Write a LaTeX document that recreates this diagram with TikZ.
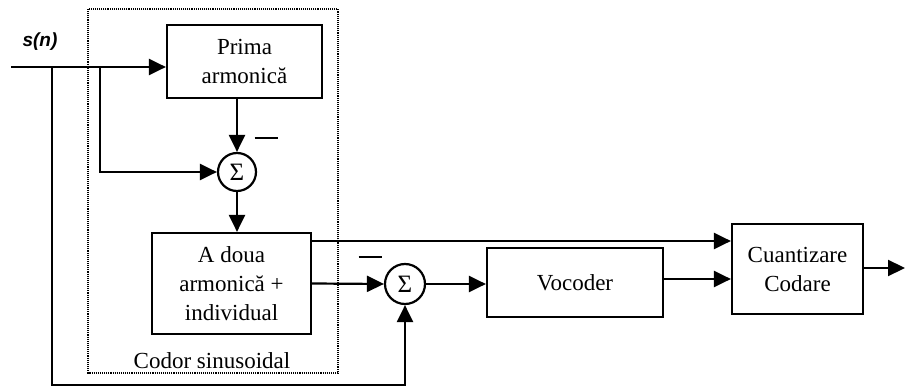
\documentclass[tikz,border=0pt]{standalone}
\usepackage{fontspec}
\setmainfont{Liberation Serif}
\newfontfamily\labfont{Liberation Sans}
\usetikzlibrary{arrows.meta}
\begin{document}
\begin{tikzpicture}[x=1pt,y=-1pt,
  line width=2.2pt,
  arr/.style={-{Triangle[length=17pt,width=16pt]}},
  blockbox/.style={draw,rectangle,align=center,inner sep=0pt,font=\fontsize{23}{29}\selectfont},
  sumnode/.style={draw,circle,minimum size=38pt,inner sep=0pt,font=\fontsize{25}{25}\selectfont},
  minusmark/.style={inner sep=0pt}
]
\useasboundingbox (0,0) rectangle (905,387);
% dotted encoder frame
\draw[line width=1.1pt,densely dotted] (88,9) rectangle (338,373);
\node[font=\fontsize{23}{29}\selectfont] (codlab) at (212,361) {Codor sinusoidal};

\node[font=\labfont\itshape\bfseries\fontsize{19}{19}\selectfont] (sn) at (40,42) {s(n)};
\coordinate (in) at (11,67);
\coordinate (b1) at (52,67);
\coordinate (b2) at (100,67);

\node[blockbox,minimum width=155pt,minimum height=73pt] (P) at (244.5,61.5) {Prima\\armonică};
\node[sumnode] (S1) at (237,172) {Σ};
\node[blockbox,minimum width=159pt,minimum height=101pt] (A) at (231.5,283.5) {A doua\\armonică +\\individual};
\node[sumnode,minimum size=40pt] (S2) at (405,284) {Σ};
\node[blockbox,minimum width=176pt,minimum height=69pt] (V) at (575,282.5) {Vocoder};
\node[blockbox,minimum width=131pt,minimum height=90pt] (C) at (797.5,269) {Cuantizare\\Codare};
\coordinate (out) at (905,268);

\node[minusmark] (m1) at (266,138) {\rule{23pt}{2.6pt}};
\node[minusmark] (m2) at (370,257) {\rule{23pt}{2.6pt}};

% connections
\draw[arr] (in) -- (P.west |- in);
\draw[arr] (b2) |- (S1.west);
\draw[arr] (S1 |- P.south) -- (S1.north);
\draw[arr] (S1.south) -- (S1 |- A.north);
\draw[arr] (A.east) -- (S2.west);
\draw[arr] (b1) -- (52,385) -| (S2.south);
\draw[arr] (S2.east) -- (V.west |- S2.east);
\draw[arr] (A.east |- 0,241) -- (C.west |- 0,241);
\draw[arr] (V.east |- 0,279) -- (C.west |- 0,279);
\draw[arr] (C.east |- out) -- (out);
\end{tikzpicture}
\end{document}
